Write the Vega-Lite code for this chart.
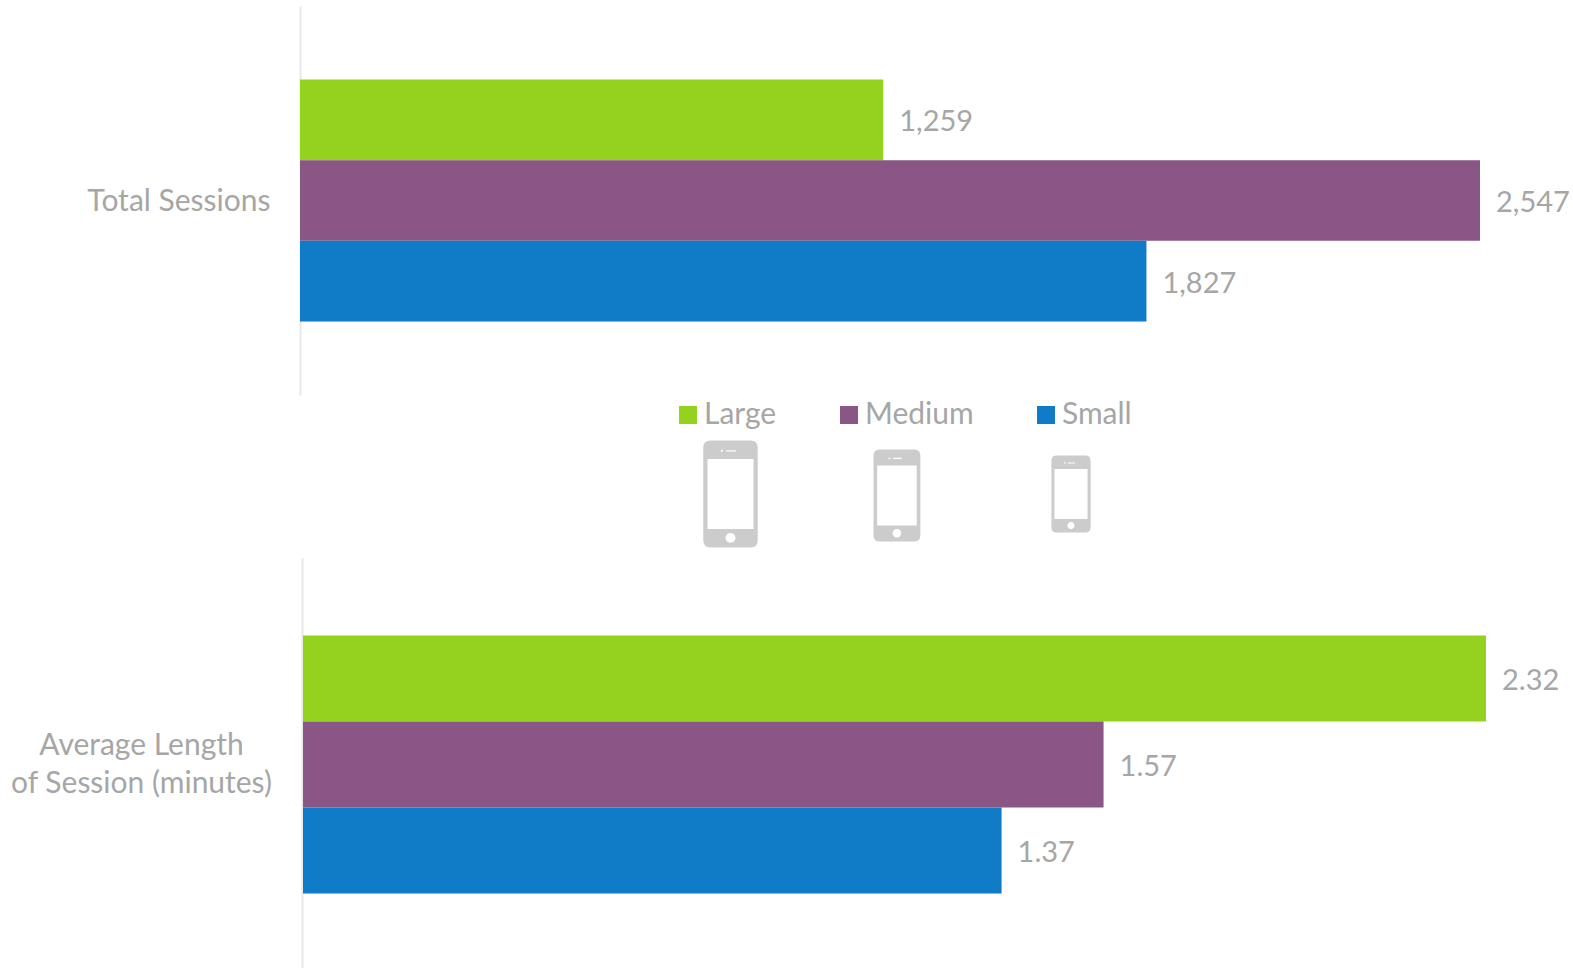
{
"$schema":"https://vega.github.io/schema/vega-lite/v6.json",
"padding":{"left":10,"top":6,"right":0,"bottom":0},
"background":"white",
"config":{"view":{"stroke":null},"font":"Lato","concat":{"spacing":0}},
"datasets":{"rows":[
{"metric":"Total Sessions","device":"Large","value":1259},
{"metric":"Total Sessions","device":"Medium","value":2547},
{"metric":"Total Sessions","device":"Small","value":1827},
{"metric":"Average Length of Session (minutes)","device":"Large","value":2.32},
{"metric":"Average Length of Session (minutes)","device":"Medium","value":1.57},
{"metric":"Average Length of Session (minutes)","device":"Small","value":1.37}],
"phones":[{"device":"Large"},{"device":"Medium"},{"device":"Small"}]},
"spacing":0,
"resolve":{"scale":{"yOffset":"independent"}},
"vconcat":[
{"width":1180,"height":389,"data":{"name":"rows"},
"transform":[{"filter":"datum.metric === 'Total Sessions'"}],
"encoding":{
"y":{"field":"metric","type":"nominal","title":null,"scale":{"paddingInner":0,"paddingOuter":0.303},
"axis":{"domainColor":"#e8e8e8","domainWidth":2,"ticks":false,"labelFontSize":30,"labelColor":"#a6a6a6","labelPadding":30,"labelLimit":400,"labelOffset":1.5}},
"yOffset":{"field":"device","type":"nominal","sort":["Large","Medium","Small"]},
"x":{"field":"value","type":"quantitative","axis":null,"scale":{"domain":[0,2547],"nice":false,"zero":true}}},
"layer":[
{"mark":{"type":"bar"},"encoding":{"color":{"field":"device","type":"nominal","title":null,
"scale":{"domain":["Large","Medium","Small"],"range":["#95d220","#895685","#107bc6"]},
"legend":{"orient":"none","legendX":373,"legendY":394,"direction":"horizontal","columns":3,"columnPadding":57,"symbolType":"square","symbolSize":324,"symbolStrokeWidth":0,"symbolOpacity":1,"labelFontSize":30,"labelColor":"#a6a6a6","labelLimit":300,"labelOffset":1,"title":null}}}},
{"mark":{"type":"text","align":"left","dx":16,"dy":2.5,"fontSize":29,"color":"#a6a6a6","clip":false},"encoding":{"text":{"field":"value","type":"quantitative","format":","}}}
]},
{"width":1180,"height":163,"data":{"name":"phones"},
"encoding":{
"x":{"field":"device","type":"nominal","axis":null,"sort":["Large","Medium","Small"],"scale":{"type":"point","padding":0,"domain":["Large","Medium","Small"],"range":[430.5,771]}}},
"layer":[
{"transform":[{"filter":"datum.device === 'Large'"}],
"mark":{"type":"point","filled":true,"opacity":1,"color":"#cccccc","strokeWidth":0,"yOffset":17.5,"size":11449,
"shape":"M-0.372 -1H0.372Q0.509 -1 0.509 -0.863V0.863Q0.509 1 0.372 1H-0.372Q-0.509 1 -0.509 0.863V-0.863Q-0.509 -1 -0.372 -1ZM-0.43 -0.652V0.652H0.43V-0.652ZM0.093 0.82A0.093 0.093 0 0 0 -0.093 0.82A0.093 0.093 0 0 0 0.093 0.82ZM-0.08 -0.82V-0.795H0.106V-0.82ZM-0.18 -0.825V-0.79H-0.145V-0.825Z"}},
{"transform":[{"filter":"datum.device === 'Medium'"}],
"mark":{"type":"point","filled":true,"opacity":1,"color":"#cccccc","strokeWidth":0,"yOffset":19,"xOffset":-3.8,"size":8464,
"shape":"M-0.372 -1H0.372Q0.509 -1 0.509 -0.863V0.863Q0.509 1 0.372 1H-0.372Q-0.509 1 -0.509 0.863V-0.863Q-0.509 -1 -0.372 -1ZM-0.43 -0.652V0.652H0.43V-0.652ZM0.093 0.82A0.093 0.093 0 0 0 -0.093 0.82A0.093 0.093 0 0 0 0.093 0.82ZM-0.08 -0.82V-0.795H0.106V-0.82ZM-0.18 -0.825V-0.79H-0.145V-0.825Z"}},
{"transform":[{"filter":"datum.device === 'Small'"}],
"mark":{"type":"point","filled":true,"opacity":1,"color":"#cccccc","strokeWidth":0,"yOffset":17.5,"size":5929,
"shape":"M-0.372 -1H0.372Q0.509 -1 0.509 -0.863V0.863Q0.509 1 0.372 1H-0.372Q-0.509 1 -0.509 0.863V-0.863Q-0.509 -1 -0.372 -1ZM-0.43 -0.652V0.652H0.43V-0.652ZM0.093 0.82A0.093 0.093 0 0 0 -0.093 0.82A0.093 0.093 0 0 0 0.093 0.82ZM-0.08 -0.82V-0.795H0.106V-0.82ZM-0.18 -0.825V-0.79H-0.145V-0.825Z"}}
]},
{"width":1186,"height":411,"data":{"name":"rows"},
"transform":[{"filter":"datum.metric !== 'Total Sessions'"}],
"encoding":{
"y":{"field":"metric","type":"nominal","title":null,"scale":{"paddingInner":0,"paddingOuter":0.2965,"align":0.507},
"axis":{"offset":-2,"domainColor":"#e8e8e8","domainWidth":2,"ticks":false,"labelFontSize":30,"labelColor":"#a6a6a6","labelAlign":"center","labelPadding":161,"labelLimit":400,"labelLineHeight":38,"labelOffset":-18.5,
"labelExpr":"['Average Length','of Session (minutes)']"}},
"yOffset":{"field":"device","type":"nominal","sort":["Large","Medium","Small"]},
"x":{"field":"value","type":"quantitative","axis":null,"scale":{"domain":[0,2.32],"nice":false,"range":[3,1186]}}},
"layer":[
{"mark":{"type":"bar"},"encoding":{"color":{"field":"device","type":"nominal","legend":null}}},
{"mark":{"type":"text","align":"left","dx":16,"dy":2,"fontSize":29,"color":"#a6a6a6","clip":false},"encoding":{"text":{"field":"value","type":"quantitative","format":".2f"}}}
]}
]}
